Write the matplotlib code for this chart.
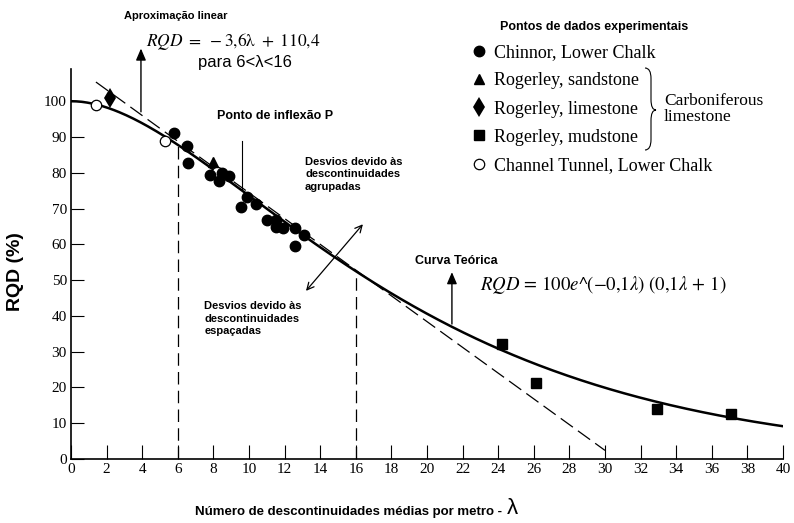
import numpy as np
import matplotlib
matplotlib.use("Agg")
import matplotlib.pyplot as plt
from matplotlib.path import Path
from matplotlib.patches import PathPatch

chinnor_x = [5.8, 6.5, 6.6, 7.8, 8.3, 8.5, 8.9, 9.55, 9.9, 10.4, 11.0, 11.5, 11.5, 11.9, 12.6, 13.1, 12.6]
chinnor_y = [91.0, 87.4, 82.7, 79.3, 77.7, 79.9, 79.0, 70.4, 73.2, 71.2, 66.8, 66.8, 64.8, 64.5, 64.5, 62.6, 59.5]
sandstone_x = [8.0]
sandstone_y = [83.0]
limestone_x = [2.2]
limestone_y = [100.8]
mudstone_x = [24.2, 26.1, 32.9, 37.1]
mudstone_y = [32.1, 21.2, 14.0, 12.6]
channel_x = [1.4, 5.3, 8.2]
channel_y = [98.9, 88.8, 80.2]

legend_labels = ["Chinnor, Lower Chalk", "Rogerley, sandstone", "Rogerley, limestone",
                 "Rogerley, mudstone", "Channel Tunnel, Lower Chalk"]

# theoretical curve RQD = 100 e^(-a*lam) (a*lam + 1), and the linear fit from the chart
curve_a = 0.1
lin_slope, lin_icpt = -3.6, 110.4
lin_range = (1.4, 30.0)
x_ticks = list(range(0, 41, 2))
y_ticks = list(range(0, 101, 10))

W, H = 794, 523
plt.rcParams["mathtext.fontset"] = "stix"
fig = plt.figure(figsize=(W / 100, H / 100), dpi=100)
ax = fig.add_axes([71 / W, 1 - 459 / H, (783 - 71) / W, (459 - 69) / H])
ax.set_xlim(0, 40)
ax.set_ylim(0, 109)


def fx(px):
    return px / W


def fy(py):
    return 1 - py / H


def theo(v):
    return 100 * np.exp(-curve_a * v) * (curve_a * v + 1)


lam = np.linspace(0, 40, 400)
ax.plot(lam, theo(lam), color="black", lw=1.8, zorder=3)

ll = np.array(lin_range)
ax.plot(ll, lin_slope * ll + lin_icpt, color="black", lw=0.9, dashes=(12, 5), zorder=2)

# vertical guides at lambda = 6 and 16
for v in (6, 16):
    ax.plot([v, v], [0, theo(v)], color="black", lw=0.9, dashes=(10, 5), zorder=2)

ms = 7.5
h5, = ax.plot(channel_x, channel_y, "o", mfc="white", mec="black", mew=0.9, ms=ms, ls="none", zorder=3.5)
h1, = ax.plot(chinnor_x, chinnor_y, "o", color="black", ms=ms, ls="none", zorder=4)
h2, = ax.plot(sandstone_x, sandstone_y, "^", color="black", ms=ms, ls="none", zorder=4)
h3, = ax.plot(limestone_x, limestone_y, "d", color="black", ms=10, mew=0, ls="none", zorder=4)
h4, = ax.plot(mudstone_x, mudstone_y, "s", color="black", ms=6.5, ls="none", zorder=4)

# axes styling
for s in ("top", "right"):
    ax.spines[s].set_visible(False)
for s in ("left", "bottom"):
    ax.spines[s].set_linewidth(1.2)
ax.set_xticks(x_ticks)
ax.set_yticks(y_ticks)
ax.tick_params(direction="in", width=0.8, labelsize=11, pad=3)
ax.tick_params(axis="x", length=10)
ax.tick_params(axis="y", length=9)
for lab in ax.get_xticklabels() + ax.get_yticklabels():
    lab.set_fontfamily("Liberation Serif")

ax.set_ylabel("RQD (%)", fontsize=14, fontweight="bold", family="Liberation Sans")
ax.yaxis.set_label_coords(-0.066, 0.48)
xl = fig.text(fx(195), fy(512), "Número de descontinuidades médias por metro - ",
              fontsize=9.5, fontweight="bold", family="Liberation Sans", va="center")
fig.canvas.draw()
bb = xl.get_window_extent()
fig.text(bb.x1 / W + 0.001, fy(508), "λ", fontsize=16, family="Liberation Sans", va="center")

# legend
leg = ax.legend([h1, h2, h3, h4, h5], legend_labels, loc="upper left",
                bbox_to_anchor=(fx(461), fy(37)), bbox_transform=fig.transFigure,
                frameon=False, prop={"family": "Liberation Serif", "size": 13},
                handletextpad=0.2, handlelength=1.2, labelspacing=0.62, borderaxespad=0)
fig.text(fx(500), fy(27), "Pontos de dados experimentais", fontsize=9, fontweight="bold",
         family="Liberation Sans", va="center")

# brace for the carboniferous limestone group
bx0, bx1, bxt = fx(645), fx(651), fx(656)
by0, bym, by1 = fy(68), fy(110), fy(150)
verts = [(bx0, by0), (bx1, by0), (bx1, by0 - 0.02),
         (bx1, bym + 0.02), (bx1, bym), (bxt, bym),
         (bx1, bym), (bx1, bym - 0.02),
         (bx1, by1 + 0.02), (bx1, by1), (bx0, by1)]
codes = [Path.MOVETO, Path.CURVE3, Path.CURVE3,
         Path.LINETO, Path.CURVE3, Path.CURVE3,
         Path.CURVE3, Path.CURVE3,
         Path.LINETO, Path.CURVE3, Path.CURVE3]
fig.add_artist(PathPatch(Path(verts, codes), transform=fig.transFigure, fill=False, lw=0.8))
fig.text(fx(664), fy(109), "Carboniferous\nlimestone", fontsize=12.5, family="Liberation Serif",
         va="center", linespacing=0.95)

# linear approximation note
fig.text(fx(124), fy(16), "Aproximação linear", fontsize=8, fontweight="bold",
         family="Liberation Sans", va="center")
fig.text(fx(146), fy(42), r"$RQD\ =\ -3{,}6\mathrm{\lambda}\ +\ 110{,}4$", fontsize=12.5, va="center")
fig.text(fx(198), fy(62), "para 6<λ<16", fontsize=12, family="Liberation Sans", va="center")
x_arr = 3.93
ax.annotate("", xy=(x_arr, 115.5), xytext=(x_arr, lin_slope * x_arr + lin_icpt),
            arrowprops=dict(arrowstyle="-|>,head_length=0.7,head_width=0.3", color="black", lw=1),
            annotation_clip=False)

# inflection point
ax.text(8.2, 95.8, "Ponto de inflexão P", fontsize=9, fontweight="bold", family="Liberation Sans",
        va="center")
xi = 9.6
ax.plot([xi, xi], [theo(xi), 89], color="black", lw=0.8)

# deviation notes
ax.text(13.15, 84.5, "Desvios devido às\ndescontinuidades\nagrupadas", fontsize=8,
        fontweight="bold", family="Liberation Sans", va="top", linespacing=1.35)
ax.text(7.5, 44.2, "Desvios devido às\ndescontinuidades\nespaçadas", fontsize=8,
        fontweight="bold", family="Liberation Sans", va="top", linespacing=1.35)
ax.annotate("", xy=(13.1, 46.4), xytext=(16.5, 66.2),
            arrowprops=dict(arrowstyle="<->,head_length=0.5,head_width=0.25", color="black", lw=0.9))

# theoretical curve note
ax.text(19.3, 55.2, "Curva Teórica", fontsize=9, fontweight="bold", family="Liberation Sans",
        va="center")
xc = 21.4
ax.annotate("", xy=(xc, 53.0), xytext=(xc, theo(xc)),
            arrowprops=dict(arrowstyle="-|>,head_length=0.7,head_width=0.3", color="black", lw=1))
ax.text(23.0, 48.6, r"$RQD\,=\,100e$^$(-0{,}1\lambda)\ (0{,}1\lambda\,+\,1)$", fontsize=13.5,
        family="STIXGeneral", va="center")

fig.savefig("out.png", dpi=100)
